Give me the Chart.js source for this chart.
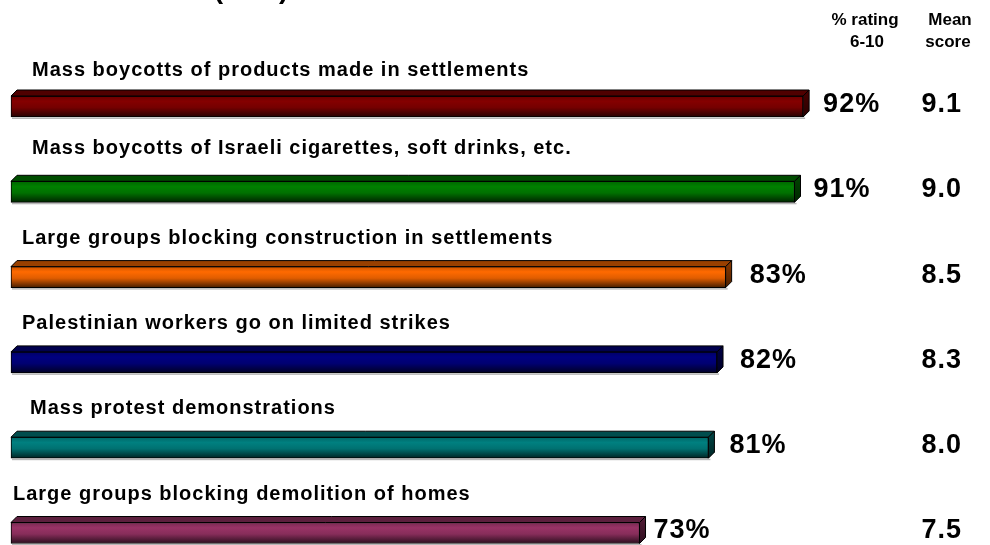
<!DOCTYPE html>
<html>
<head>
<meta charset="utf-8">
<script src="https://cdn.jsdelivr.net/npm/chart.js@4"></script>
<style>
html,body{margin:0;padding:0;background:#fff;}
canvas{display:block;}
</style>
</head>
<body>
<canvas id="c" width="990" height="545"></canvas>
<script>
const categories = [
  'Mass boycotts of products made in settlements',
  'Mass boycotts of Israeli cigarettes, soft drinks, etc.',
  'Large groups blocking construction in settlements',
  'Palestinian workers go on limited strikes',
  'Mass protest demonstrations',
  'Large groups blocking demolition of homes'
];
const pctRating = [92, 91, 83, 82, 81, 73];
const meanScore = [9.1, 9.0, 8.5, 8.3, 8.0, 7.5];
const barColors = ['#850000', '#008000', '#ff6a00', '#000080', '#008080', '#993366'];
const headerPct = ['% rating', '6-10'];
const headerMean = ['Mean', 'score'];
const titleText = '(0-10)';

// layout/style settings
const labelX = [32, 32, 22, 22, 30, 13];
const labelDy = [-36, -43, -39, -39, -39, -39];
const pctDx = [14, 13, 18, 17, 15, 8];
const BAR_H = 21;
const DEPTH = 6;
const FONT = '"Liberation Sans", Arial, sans-serif';

function shade(hex, f) {
  const n = parseInt(hex.slice(1), 16);
  const r = Math.round(((n >> 16) & 255) * f);
  const g = Math.round(((n >> 8) & 255) * f);
  const b = Math.round((n & 255) * f);
  return `rgb(${r},${g},${b})`;
}

const threeD = {
  id: 'threeD',
  beforeDatasetsDraw(chart) {
    const ctx = chart.ctx;
    const meta = chart.getDatasetMeta(0);
    ctx.save();
    ctx.fillStyle = '#b8b8b8';
    meta.data.forEach(bar => {
      const p = bar.getProps(['x', 'y', 'base', 'height'], true);
      const bottom = p.y + p.height / 2;
      ctx.fillRect(p.base + 1, bottom + 0.5, p.x - p.base + 1, 1.5);
    });
    ctx.restore();
  },
  afterDatasetsDraw(chart) {
    const ctx = chart.ctx;
    const meta = chart.getDatasetMeta(0);
    ctx.save();
    ctx.lineWidth = 1;
    ctx.strokeStyle = '#000';
    meta.data.forEach((bar, i) => {
      const p = bar.getProps(['x', 'y', 'base', 'height'], true);
      const top = p.y - p.height / 2, bottom = p.y + p.height / 2;
      const col = barColors[i];
      // top face
      ctx.beginPath();
      ctx.moveTo(p.base, top);
      ctx.lineTo(p.base + DEPTH, top - DEPTH);
      ctx.lineTo(p.x + DEPTH, top - DEPTH);
      ctx.lineTo(p.x, top);
      ctx.closePath();
      ctx.fillStyle = shade(col, 0.6);
      ctx.fill();
      ctx.stroke();
      // side face
      ctx.beginPath();
      ctx.moveTo(p.x, top);
      ctx.lineTo(p.x + DEPTH, top - DEPTH);
      ctx.lineTo(p.x + DEPTH, bottom - DEPTH);
      ctx.lineTo(p.x, bottom);
      ctx.closePath();
      const g = ctx.createLinearGradient(0, top - DEPTH, 0, bottom);
      g.addColorStop(0, shade(col, 0.55));
      g.addColorStop(1, shade(col, 0.3));
      ctx.fillStyle = g;
      ctx.fill();
      ctx.stroke();
    });
    ctx.restore();
  },
  afterDraw(chart) {
    const ctx = chart.ctx;
    const meta = chart.getDatasetMeta(0);
    ctx.save();
    ctx.fillStyle = '#000';
    // title (cut off at top of the picture)
    ctx.font = 'bold 28px ' + FONT;
    ctx.textAlign = 'center';
    ctx.textBaseline = 'alphabetic';
    ctx.fillText(titleText, 251, -2);
    // headers
    ctx.font = 'bold 17px ' + FONT;
    ctx.textBaseline = 'middle';
    ctx.fillText(headerPct[0], 865, 20);
    ctx.fillText(headerPct[1], 867, 42);
    ctx.fillText(headerMean[0], 950, 20);
    ctx.fillText(headerMean[1], 948, 42);
    meta.data.forEach((bar, i) => {
      const p = bar.getProps(['x', 'y'], true);
      // category label
      ctx.font = 'bold 20px ' + FONT;
      ctx.textAlign = 'left';
      ctx.letterSpacing = '1px';
      ctx.fillText(categories[i], labelX[i], p.y + labelDy[i]);
      // percent
      ctx.font = 'bold 27px ' + FONT;
      ctx.letterSpacing = '1px';
      ctx.fillText(pctRating[i] + '%', p.x + DEPTH + pctDx[i], p.y - 2);
      // mean
      ctx.textAlign = 'right';
      ctx.fillText(meanScore[i].toFixed(1), 962, p.y - 2);
      ctx.letterSpacing = '0px';
    });
    ctx.restore();
  }
};

new Chart(document.getElementById('c'), {
  type: 'bar',
  data: {
    labels: categories,
    datasets: [{
      data: pctRating,
      barThickness: BAR_H,
      borderWidth: 1,
      borderColor: '#000',
      borderSkipped: false,
      clip: false,
      backgroundColor: (c) => {
        const ch = c.chart;
        const col = barColors[c.dataIndex];
        if (!ch.chartArea) return col;
        const y = ch.scales.y.getPixelForValue(c.dataIndex);
        const g = ch.ctx.createLinearGradient(0, y - BAR_H / 2, 0, y + BAR_H / 2);
        g.addColorStop(0, shade(col, 0.8));
        g.addColorStop(0.25, shade(col, 1));
        g.addColorStop(0.55, shade(col, 0.88));
        g.addColorStop(1, shade(col, 0.28));
        return g;
      }
    }]
  },
  options: {
    indexAxis: 'y',
    responsive: false,
    animation: false,
    events: [],
    layout: { padding: { left: 11, right: 118, top: 106.5, bottom: 12 } },
    plugins: { legend: { display: false }, tooltip: { enabled: false }, title: { display: false } },
    scales: {
      x: { display: false, min: 0, max: 100 },
      y: { display: false, offset: false }
    }
  },
  plugins: [threeD]
});
</script>
</body>
</html>
